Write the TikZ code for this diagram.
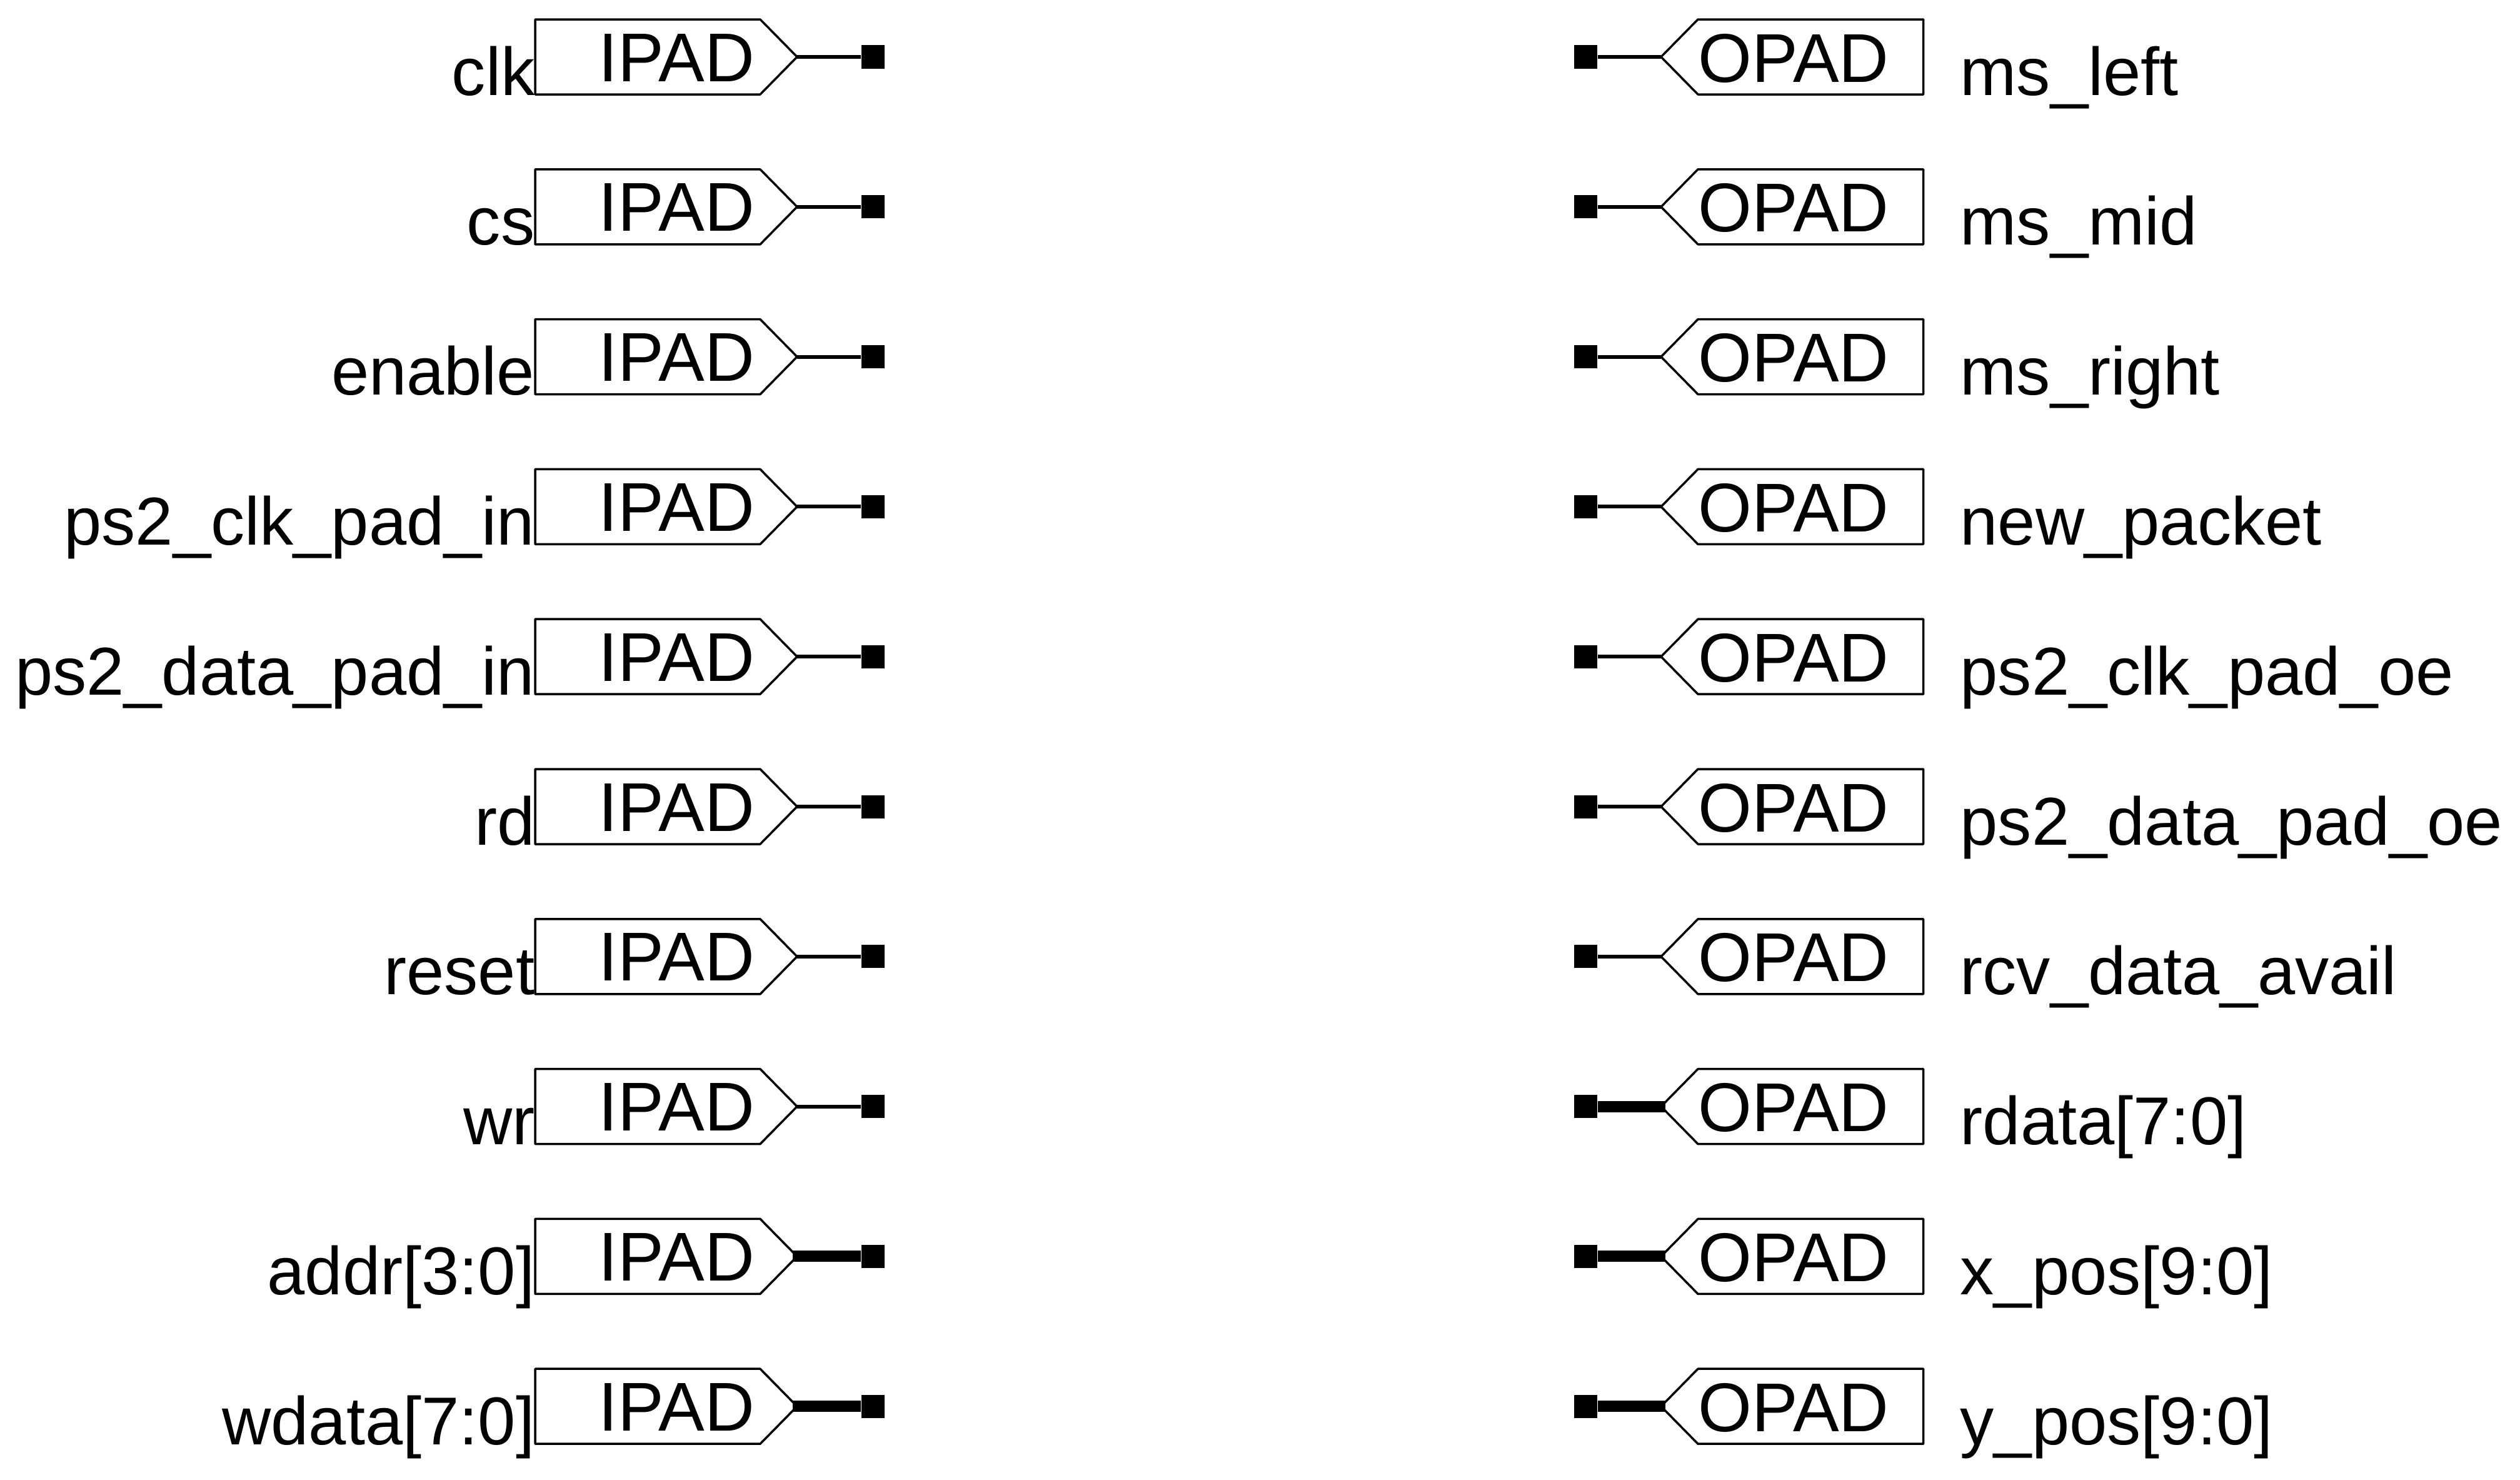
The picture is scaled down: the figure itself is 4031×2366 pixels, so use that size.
\documentclass[tikz,border=0pt]{standalone}
\usepackage{fontspec}
\setmainfont{Liberation Sans}
\tikzset{
  padline/.style={draw=black,line width=3.5*0.2845pt,line join=round},
  padtext/.style={inner sep=0pt,anchor=base west,font=\fontsize{31.4pt}{32pt}\selectfont},
  sigleft/.style={inner sep=0pt,anchor=base east,font=\fontsize{30.8pt}{31pt}\selectfont},
  sigright/.style={inner sep=0pt,anchor=base west,font=\fontsize{30.8pt}{31pt}\selectfont},
  term/.style={fill=black,draw=none,inner sep=0pt,minimum width=37*0.2845pt,minimum height=37*0.2845pt,rectangle},
  thinwire/.style={draw=black,line width=6*0.2845pt},
  thickwire/.style={draw=black,line width=18*0.2845pt}
}
\begin{document}
\begin{tikzpicture}[x=0.01cm,y=-0.01cm]
\useasboundingbox (0,0) rectangle (4031,2366);
% input pads
\foreach \i/\lab/\wire/\st in {
  0/clk/thinwire/0, 1/cs/thinwire/0, 2/enable/thinwire/0,
  3/ps2\_clk\_pad\_in/thinwire/0, 4/ps2\_data\_pad\_in/thinwire/0,
  5/rd/thinwire/0, 6/reset/thinwire/0, 7/wr/thinwire/0,
  8/addr[3:0]/thickwire/-7, 9/wdata[7:0]/thickwire/-7}{
  \pgfmathsetmacro{\m}{91+239.8*\i}
  \draw[padline] (856,\m-60) -- (1216,\m-60) -- (1275,\m) -- (1216,\m+60) -- (856,\m+60) -- cycle;
  \node[padtext] (ipadtext\i) at (957,\m+39) {IPAD};
  \node[sigleft] (insig\i) at (856,\m+61) {\lab};
  \node[term] (interm\i) at (1396.5,\m) {};
  \coordinate (intip\i) at (1275+\st,\m);
  \draw[\wire] (intip\i) -- (interm\i);
}
% output pads
\foreach \i/\lab/\wire/\st in {
  0/ms\_left/thinwire/0, 1/ms\_mid/thinwire/0, 2/ms\_right/thinwire/0,
  3/new\_packet/thinwire/0, 4/ps2\_clk\_pad\_oe/thinwire/0,
  5/ps2\_data\_pad\_oe/thinwire/0, 6/rcv\_data\_avail/thinwire/0,
  7/rdata[7:0]/thickwire/7, 8/x\_pos[9:0]/thickwire/7, 9/y\_pos[9:0]/thickwire/7}{
  \pgfmathsetmacro{\m}{91+239.8*\i}
  \draw[padline] (3076.5,\m-60) -- (2716,\m-60) -- (2657,\m) -- (2716,\m+60) -- (3076.5,\m+60) -- cycle;
  \node[padtext] (opadtext\i) at (2716,\m+40) {OPAD};
  \node[sigright] (outsig\i) at (3135,\m+61) {\lab};
  \node[term] (outterm\i) at (2536.5,\m) {};
  \coordinate (outtip\i) at (2657+\st,\m);
  \draw[\wire] (outtip\i) -- (outterm\i);
}
\end{tikzpicture}
\end{document}
